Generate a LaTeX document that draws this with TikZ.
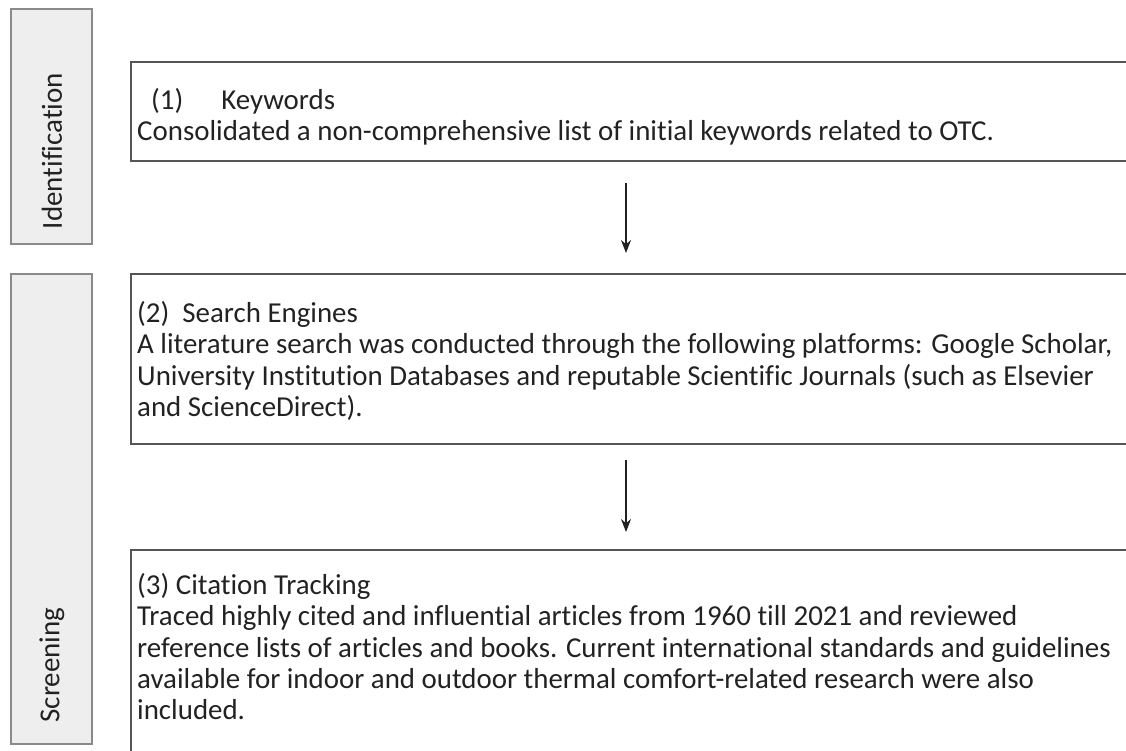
\documentclass[tikz,border=0pt]{standalone}
\usepackage{fontspec}
\setmainfont{Carlito}[Ligatures=CommonOff]
\usetikzlibrary{arrows.meta}
\definecolor{inkc}{HTML}{222222}
\definecolor{framec}{HTML}{555555}
\definecolor{barfill}{HTML}{EEEEEE}
\definecolor{barline}{HTML}{8A8A8A}
\begin{document}
\begin{tikzpicture}[x=1pt,y=-1pt,
  phasebar/.style={draw=barline, fill=barfill, line width=1.6pt, anchor=north west, inner sep=0pt},
  phaselabel/.style={rotate=90, text=inkc, font=\fontsize{29}{34}\selectfont, inner sep=0pt},
  stepbox/.style={draw=framec, line width=1.8pt, anchor=north west, inner sep=0pt},
  steptext/.style={anchor=north west, inner sep=0pt, align=left, text=inkc,
                   font=\fontsize{28.9}{31.4}\selectfont},
  flow/.style={draw=inkc, line width=1.6pt, -{Stealth[length=13pt,width=10pt]}}
]
\useasboundingbox (0,0) rectangle (1126,750);
\clip (0,0) rectangle (1126,750);

% phase bars on the left
\node[phasebar, minimum width=81pt, minimum height=235pt] (idbar) at (10,8) {};
\node[phasebar, minimum width=81pt, minimum height=470pt] (scbar) at (10,273) {};
\node[phaselabel] (idlabel) at (52,151) {Identification};
\node[phaselabel] (sclabel) at (52,665) {Screening};

% step boxes (they run past the right and bottom edges)
\node[stepbox, minimum width=1010pt, minimum height=99pt] (kw) at (130,61) {};
\node[stepbox, minimum width=1010pt, minimum height=170pt] (se) at (130,273) {};
\node[stepbox, minimum width=1010pt, minimum height=240pt] (ct) at (130,549) {};

% step texts
\node[steptext] (kwtext) at (137,88) {\hspace*{14pt}(1)\hspace{38pt}Keywords\\
Consolidated a non-comprehensive list of initial keywords related to OTC.};
\node[steptext] (setext) at (137,301) {(2)\ \ Search Engines\\
A literature search was conducted through the following platforms: Google Scholar,\\
University Institution Databases and reputable Scientific Journals (such as Elsevier\\
and ScienceDirect).};
\node[steptext] (cttext) at (137,573) {(3) Citation Tracking\\
Traced highly cited and influential articles from 1960 till 2021 and reviewed\\
reference lists of articles and books. Current international standards and guidelines\\
available for indoor and outdoor thermal comfort-related research were also\\
included.};

% connectors
\coordinate (axis) at (626,0);
\draw[flow, shorten <=21pt, shorten >=20pt] (kw.south -| axis) -- (se.north -| axis);
\draw[flow, shorten <=15pt, shorten >=17pt] (se.south -| axis) -- (ct.north -| axis);
\end{tikzpicture}
\end{document}
